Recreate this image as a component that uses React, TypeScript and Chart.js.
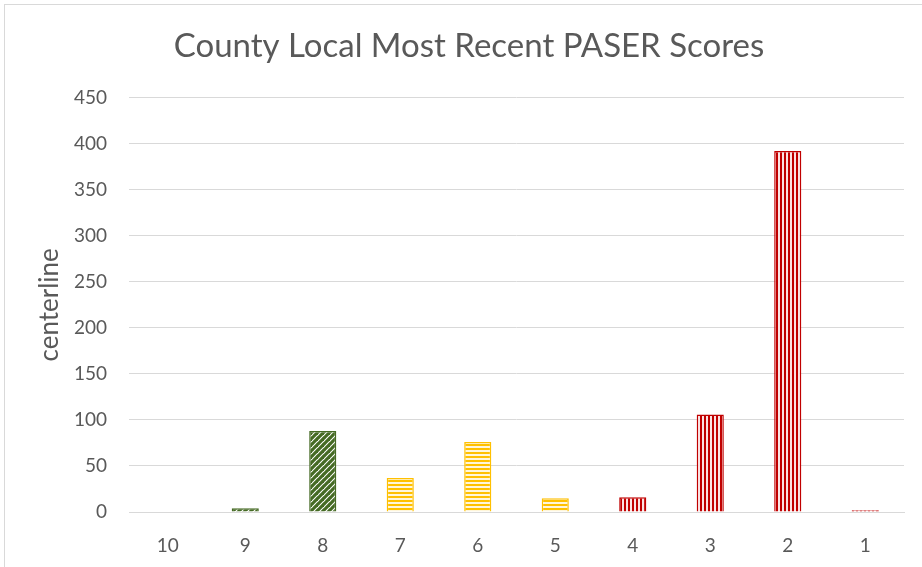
import React, { useEffect, useRef } from "react";
import { Chart, registerables } from "chart.js";

Chart.register(...registerables);

const categories = ["10", "9", "8", "7", "6", "5", "4", "3", "2", "1"];
const counts = [0, 4, 88, 37, 76, 15, 16, 106, 392, 2];
const groups = ["green", "green", "green", "gold", "gold", "gold", "red", "red", "red", "red"];
const yMax = 450;
const yStep = 50;

const COLORS: Record<string, string> = {
  green: "#456A24",
  gold: "#FFC000",
  red: "#C00000",
};

function makePattern(kind: string): CanvasPattern | string {
  const c = document.createElement("canvas");
  const ctx = c.getContext("2d");
  const col = COLORS[kind];
  if (!ctx) return col;
  if (kind === "gold") {
    c.width = 4;
    c.height = 4;
    ctx.fillStyle = "#FFF6DA";
    ctx.fillRect(0, 0, 4, 4);
    ctx.fillStyle = col;
    ctx.fillRect(0, 0, 4, 2);
  } else if (kind === "red") {
    c.width = 4;
    c.height = 4;
    ctx.fillStyle = "#FBE3E3";
    ctx.fillRect(0, 0, 4, 4);
    ctx.fillStyle = col;
    ctx.fillRect(0, 0, 2, 4);
  } else {
    c.width = 6;
    c.height = 6;
    ctx.fillStyle = "#FFFFFF";
    ctx.fillRect(0, 0, 6, 6);
    ctx.strokeStyle = col;
    ctx.lineWidth = 3.2;
    for (const off of [-6, 0, 6]) {
      ctx.beginPath();
      ctx.moveTo(off - 1, 7);
      ctx.lineTo(off + 7, -1);
      ctx.stroke();
    }
  }
  const p = ctx.createPattern(c, "repeat");
  return p || col;
}

export default function App() {
  const ref = useRef<HTMLCanvasElement | null>(null);

  useEffect(() => {
    if (!ref.current) return;
    const pats: Record<string, CanvasPattern | string> = {
      green: makePattern("green"),
      gold: makePattern("gold"),
      red: makePattern("red"),
    };
    const chart = new Chart(ref.current, {
      type: "bar",
      data: {
        labels: categories,
        datasets: [
          {
            label: "centerline",
            data: counts,
            backgroundColor: groups.map((g) => pats[g]),
            borderColor: groups.map((g) => COLORS[g]),
            borderWidth: 1.5,
            barPercentage: 0.35,
            categoryPercentage: 1,
          },
        ],
      },
      options: {
        responsive: false,
        animation: false,
        layout: { padding: { left: 34, right: 18, top: 0, bottom: 0 } },
        plugins: {
          legend: { display: false },
          tooltip: { enabled: false },
          title: {
            display: true,
            text: "County Local Most Recent PASER Scores",
            color: "#595959",
            font: { family: "Lato, sans-serif", size: 33, weight: "normal" },
            padding: { top: 27, bottom: 31 },
          },
        },
        scales: {
          x: {
            grid: { display: false, drawTicks: false },
            border: { display: true, color: "#D9D9D9", width: 1 },
            ticks: {
              color: "#595959",
              font: { family: "Lato, sans-serif", size: 19 },
              padding: 22,
            },
            afterFit: (s: any) => {
              s.height = 55;
            },
          },
          y: {
            min: 0,
            max: yMax,
            grid: { color: "#D9D9D9", lineWidth: 1, drawTicks: false },
            border: { display: false },
            ticks: {
              stepSize: yStep,
              color: "#595959",
              font: { family: "Lato, sans-serif", size: 19 },
              padding: 22,
            },
            title: {
              display: true,
              text: "centerline",
              color: "#595959",
              font: { family: "Lato, sans-serif", size: 26 },
              padding: 0,
            },
            afterFit: (s: any) => {
              s.width = 95;
            },
          },
        },
      },
    });
    return () => chart.destroy();
  }, []);

  return (
    <div
      style={{
        position: "absolute",
        left: 0,
        top: 0,
        width: 922,
        height: 567,
        overflow: "hidden",
        background: "#FFFFFF",
      }}
    >
      <canvas ref={ref} width={922} height={567} style={{ position: "absolute", left: 0, top: 0 }} />
      <div
        style={{
          position: "absolute",
          left: 4,
          top: 4,
          width: 940,
          height: 600,
          border: "1px solid #D9D9D9",
          pointerEvents: "none",
        }}
      />
    </div>
  );
}
